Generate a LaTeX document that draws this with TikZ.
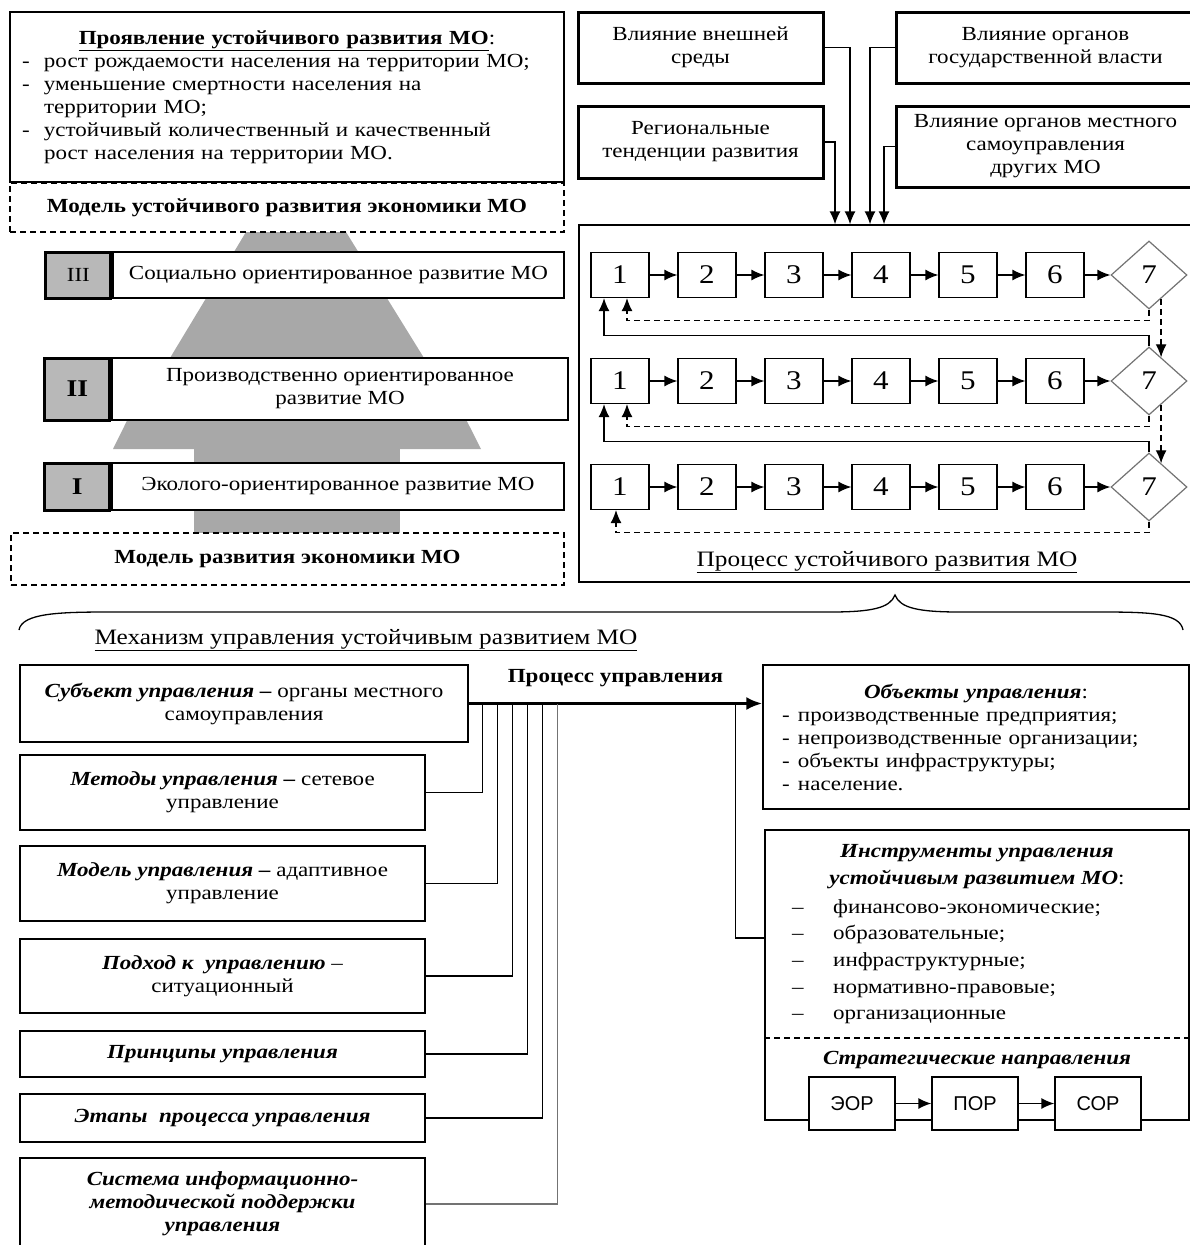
\documentclass[tikz,border=0pt]{standalone}
\usepackage{fontspec}
\setmainfont{Liberation Serif}[FakeStretch=1.15]
\setsansfont{Liberation Sans}
\usepackage{tikz}
\usetikzlibrary{shapes,arrows,arrows.meta}
\newcommand{\bodyfont}{\fontsize{20}{23}\selectfont}
\newcommand{\numfont}{\fontsize{27}{30}\selectfont}
\newcommand{\ttlfont}{\fontsize{22}{24}\selectfont}
\newcommand{\bitext}[1]{\textbf{\textit{#1}}}
\definecolor{treegray}{gray}{0.66}
\definecolor{sqgray}{gray}{0.72}
\tikzstyle{line} = [draw, line width=1.5pt, -{Latex[length=13pt, width=11pt]}]
\tikzstyle{branch} = [draw, line width=1.2pt]
\tikzstyle{feed} = [draw, line width=1.3pt, dash pattern=on 6pt off 4pt, -{Latex[length=13pt, width=11pt]}]
\tikzstyle{plainbox} = [rectangle, draw=black, line width=1.3pt, fill=white, text centered, align=center, inner sep=0pt, font=\bodyfont]
\tikzstyle{heavybox} = [plainbox, line width=3pt]
\tikzstyle{dashbox} = [plainbox, line width=1.1pt, dash pattern=on 6pt off 4pt]
\tikzstyle{levelsq} = [rectangle, draw=black, line width=3pt, fill=sqgray, minimum width=65pt, inner sep=0pt, font=\bodyfont]
\tikzstyle{stepbox} = [rectangle, draw=black, line width=1.2pt, fill=white, minimum width=58pt, minimum height=45pt, inner sep=0pt, font=\numfont]
\tikzstyle{decision} = [diamond, draw=black!55, line width=1.2pt, fill=white, minimum width=76pt, minimum height=68pt, inner sep=0pt, font=\numfont, node distance=94pt]
\tikzstyle{mbox} = [plainbox, minimum width=405pt]
\tikzstyle{sbox} = [plainbox, minimum width=86pt, minimum height=53pt, font=\bodyfont\sffamily, node distance=123pt]

\begin{document}
\begin{tikzpicture}[node distance=87pt, x=1pt, y=-1pt]
\useasboundingbox (0,0) rectangle (1190,1245);
\clip (0,0) rectangle (1190,1245);
% Gray tree behind the levels
\fill [treegray] (246,232) -- (346,232) -- (424,358) -- (170,358) -- cycle;
\fill [treegray] (157,360) -- (436,360) -- (481,449) -- (113,449) -- cycle;
\fill [treegray] (194,449) rectangle (400,535);
% Place nodes
\node [plainbox, minimum height=170pt, text width=530pt, inner xsep=12pt, align=left] (manif) at (287,97) {%
{\centering\underline{\textbf{Проявление устойчивого развития МО}}:\par}
\makebox[22pt][l]{-}рост рождаемости населения на территории МО;\\
\makebox[22pt][l]{-}уменьшение смертности населения на\\
\hspace*{22pt}территории МО;\\
\makebox[22pt][l]{-}устойчивый количественный и качественный\\
\hspace*{22pt}рост населения на территории МО.};
\node [dashbox, minimum width=554pt, minimum height=49pt] (sustmodel) at (287,207.5) {\textbf{Модель устойчивого развития экономики МО}};
\node [plainbox, minimum width=451pt, minimum height=46pt] (lvl3) at (338.5,275) {Социально ориентированное развитие МО};
\node [levelsq, minimum height=46pt, anchor=east] (sq3) at (lvl3.west) {III};
\node [plainbox, minimum width=456pt, minimum height=62pt] (lvl2) at (340,389) {Производственно ориентированное\\развитие МО};
\node [levelsq, minimum height=62pt, anchor=east, font=\fontsize{24}{26}\selectfont\bfseries] (sq2) at (lvl2.west) {II};
\node [plainbox, minimum width=452pt, minimum height=47pt] (lvl1) at (338,486.5) {Эколого-ориентированное развитие МО};
\node [levelsq, minimum height=47pt, anchor=east, font=\fontsize{24}{26}\selectfont\bfseries] (sq1) at (lvl1.west) {I};
\node [dashbox, minimum width=553pt, minimum height=52pt] (basemodel) at (287.5,559) {\textbf{Модель развития экономики МО}};

\node [heavybox, minimum width=245pt, minimum height=71pt] (ext) at (700.5,47.5) {Влияние внешней\\среды};
\node [heavybox, minimum width=245pt, minimum height=72pt] (reg) at (700.5,142) {Региональные\\тенденции развития};
\node [heavybox, minimum width=299pt, minimum height=71pt] (gov) at (1045.5,47.5) {Влияние органов\\государственной власти};
\node [heavybox, minimum width=299pt, minimum height=81pt] (loc) at (1045.5,146.5) {Влияние органов местного\\самоуправления\\других МО};
\node [plainbox, minimum width=616pt, minimum height=357pt] (proc) at (887,403.5) {};
\node [font=\ttlfont] (proctitle) at (887,562) {\underline{Процесс устойчивого развития МО}};

\node [stepbox] (a1) at (620,275) {1};
\node [stepbox, right of=a1] (a2) {2};
\node [stepbox, right of=a2] (a3) {3};
\node [stepbox, right of=a3] (a4) {4};
\node [stepbox, right of=a4] (a5) {5};
\node [stepbox, right of=a5] (a6) {6};
\node [decision, right of=a6] (a7) {7};
\node [stepbox] (b1) at (620,381) {1};
\node [stepbox, right of=b1] (b2) {2};
\node [stepbox, right of=b2] (b3) {3};
\node [stepbox, right of=b3] (b4) {4};
\node [stepbox, right of=b4] (b5) {5};
\node [stepbox, right of=b5] (b6) {6};
\node [decision, right of=b6] (b7) {7};
\node [stepbox] (c1) at (620,487) {1};
\node [stepbox, right of=c1] (c2) {2};
\node [stepbox, right of=c2] (c3) {3};
\node [stepbox, right of=c3] (c4) {4};
\node [stepbox, right of=c4] (c5) {5};
\node [stepbox, right of=c5] (c6) {6};
\node [decision, right of=c6] (c7) {7};

\node [font=\ttlfont] (mechtitle) at (366,640) {\underline{Механизм управления устойчивым развитием МО}};
\node [mbox, minimum width=448pt, minimum height=77pt] (subj) at (244,703.5) {\bitext{Субъект управления} \textbf{–} органы местного\\самоуправления};
\node [mbox, minimum height=75pt] (meth) at (222.5,792.5) {\bitext{Методы управления} \textbf{–} сетевое\\управление};
\node [mbox, minimum height=75pt] (mdl) at (222.5,883.5) {\bitext{Модель управления} \textbf{–} адаптивное\\управление};
\node [mbox, minimum height=74pt] (appr) at (222.5,976) {\bitext{Подход к\ \ управлению} –\\ситуационный};
\node [mbox, minimum height=46pt] (princ) at (222.5,1054) {\bitext{Принципы управления}};
\node [mbox, minimum height=48pt] (stages) at (222.5,1118) {\bitext{Этапы\ \ процесса управления}};
\node [mbox, minimum height=92pt] (infosys) at (222.5,1204) {\bitext{Система информационно-}\\\bitext{методической поддержки}\\\bitext{управления}};

\node [plainbox, minimum height=144pt, text width=400pt, inner xsep=13pt, align=left] (obj) at (976,737) {%
{\centering\bitext{Объекты управления}:\par}
\hspace*{6pt}\makebox[16pt][l]{-}производственные предприятия;\\
\hspace*{6pt}\makebox[16pt][l]{-}непроизводственные организации;\\
\hspace*{6pt}\makebox[16pt][l]{-}объекты инфраструктуры;\\
\hspace*{6pt}\makebox[16pt][l]{-}население.};
\node [plainbox, minimum width=424pt, minimum height=290pt] (instr) at (977,975) {};
\node [font=\fontsize{20}{27}\selectfont, align=center, inner sep=0pt] (instrhead) at (977,866.5) {\bitext{Инструменты управления}\\\bitext{устойчивым развитием МО}:};
\node [anchor=north west, align=left, inner sep=0pt, font=\fontsize{20}{26.7}\selectfont] (instrlist) at (792,899) {%
\makebox[41pt][l]{–}финансово-экономические;\\
\makebox[41pt][l]{–}образовательные;\\
\makebox[41pt][l]{–}инфраструктурные;\\
\makebox[41pt][l]{–}нормативно-правовые;\\
\makebox[41pt][l]{–}организационные};
\node [font=\bodyfont] (strat) at (977,1060) {\bitext{Стратегические направления}};
\node [sbox] (eor) at (852,1103.5) {ЭОР};
\node [sbox, right of=eor] (por) {ПОР};
\node [sbox, right of=por] (sor) {СОР};

\coordinate (braceL) at (19,630);
\coordinate (braceR) at (1183,630);

% Draw edges
\path [line] (ext.east) -| ([xshift=-37pt]proc.north);
\path [line] (reg.east) -| ([xshift=-52pt]proc.north);
\path [line] (gov.west) -| ([xshift=-17pt]proc.north);
\path [line] (loc.west) -| ([xshift=-3pt]proc.north);

\path [line] (a1) -- (a2); \path [line] (a2) -- (a3); \path [line] (a3) -- (a4);
\path [line] (a4) -- (a5); \path [line] (a5) -- (a6); \path [line] (a6) -- (a7);
\path [line] (b1) -- (b2); \path [line] (b2) -- (b3); \path [line] (b3) -- (b4);
\path [line] (b4) -- (b5); \path [line] (b5) -- (b6); \path [line] (b6) -- (b7);
\path [line] (c1) -- (c2); \path [line] (c2) -- (c3); \path [line] (c3) -- (c4);
\path [line] (c4) -- (c5); \path [line] (c5) -- (c6); \path [line] (c6) -- (c7);

\path [feed] (a7.south) -- ++(0,11) -| ([xshift=7pt]a1.south);
\path [feed] (a7.-63) -- (a7.-63 |- b7.63);
\path [line] (b7.north) -- ++(0,-11) -| ([xshift=-16pt]a1.south);
\path [feed] (b7.south) -- ++(0,11) -| ([xshift=7pt]b1.south);
\path [feed] (b7.-63) -- (b7.-63 |- c7.63);
\path [line] (c7.north) -- ++(0,-11) -| ([xshift=-16pt]b1.south);
\path [feed] (c7.south) -- ++(0,11) -| ([xshift=-4pt]c1.south);

\draw [line width=1.3pt] (braceL) .. controls (22,613) and (60,612) .. (110,612) -- (830,612)
  .. controls (872,612) and (890,608) .. (895,595) .. controls (900,608) and (918,612) .. (960,612)
  -- (1100,612) .. controls (1150,612) and (1180,613) .. (braceR);

\path [line, line width=3pt, -{Latex[length=16pt, width=13pt]}] (subj.east) -- node [anchor=south, yshift=12pt, font=\bodyfont\bfseries] {Процесс управления} (subj.east -| obj.west);
\path [branch] (meth.east) -| ([xshift=14pt]subj.east);
\path [branch] (mdl.east) -| ([xshift=29pt]subj.east);
\path [branch] (appr.east) -| ([xshift=44pt]subj.east);
\path [branch] (princ.east) -| ([xshift=59pt]subj.east);
\path [branch] (stages.east) -| ([xshift=74pt]subj.east);
\path [branch, draw=black!55] (infosys.east) -| ([xshift=89pt]subj.east);
\path [branch] ([xshift=267pt]subj.east) |- ([yshift=37pt]instr.west);

\draw [line width=1.1pt, dash pattern=on 6pt off 4pt] ([yshift=-63pt]instr.west) -- ([yshift=-63pt]instr.east);
\path [line] (eor) -- (por);
\path [line] (por) -- (sor);
\end{tikzpicture}
\end{document}
